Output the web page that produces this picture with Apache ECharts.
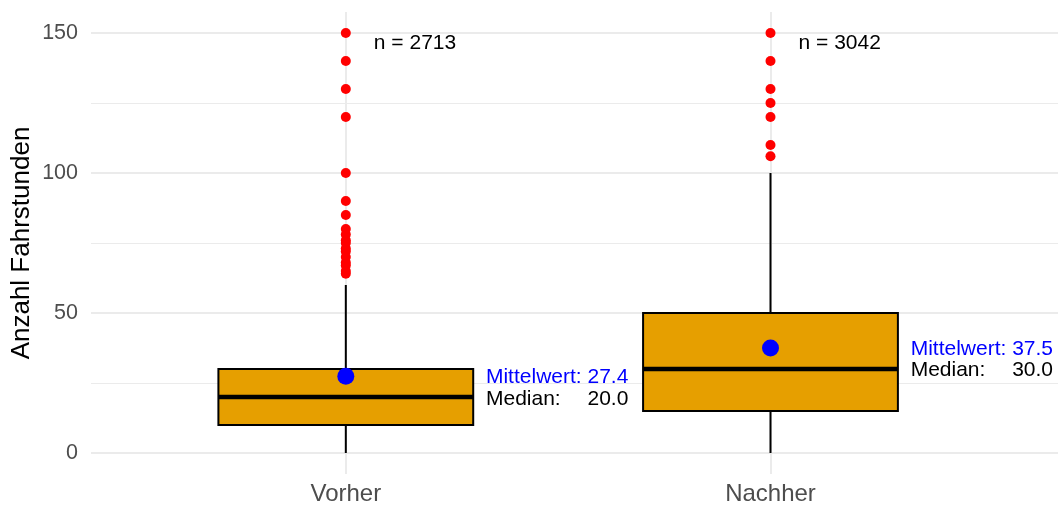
<!DOCTYPE html>
<html><head><meta charset="utf-8">
<script src="https://cdn.jsdelivr.net/npm/echarts@6/dist/echarts.min.js"></script>
<style>html,body{margin:0;padding:0;background:#fff}#c{width:1058px;height:506px}</style>
</head><body><div id="c"></div>
<script>
// ---- data ----
const categories = ['Vorher', 'Nachher'];
const counts = [2713, 3042];
const whiskerLow = [0, 0];
const q1 = [10, 15];
const medians = [20, 30];
const q3 = [30, 50];
const whiskerHigh = [60, 100];
const means = [27.4, 37.5];
const outliersVorher = [150, 140, 130, 120, 100, 90, 85, 80, 78, 76, 75, 73, 72, 70, 68, 67, 65, 64];
const outliersNachher = [150, 140, 130, 125, 120, 110, 106];
const yMajorTicks = [0, 50, 100, 150];
const yMinorTicks = [25, 75, 125];
const xTicks = [1, 2];

// ---- styles ----
const FONT = "'Liberation Sans', Arial, Helvetica, sans-serif";
const ANN_SIZE = 21;
const measureCtx = document.createElement('canvas').getContext('2d');
measureCtx.font = ANN_SIZE + "px 'Liberation Sans', Arial, sans-serif";
const textW = s => measureCtx.measureText(s).width;

const chart = echarts.init(document.getElementById('c'), null, {renderer: 'canvas'});

const boxData = categories.map((c, i) => [i + 1, whiskerLow[i], q1[i], medians[i], q3[i], whiskerHigh[i]]);
const outlierData = outliersVorher.map(v => [1, v]).concat(outliersNachher.map(v => [2, v]));
const meanData = categories.map((c, i) => [i + 1, means[i]]);
const annData = categories.map((c, i) => [i + 1, means[i], medians[i], counts[i], yMajorTicks[yMajorTicks.length - 1]]);

const option = {
  animation: false,
  backgroundColor: '#ffffff',
  grid: {left: 91, right: 0, top: 12, bottom: 32, containLabel: false, outerBoundsMode: 'none'},
  xAxis: {
    type: 'value', min: 0.4, max: 2.677,
    axisLine: {show: false},
    axisTick: {show: false, customValues: xTicks},
    axisLabel: {
      customValues: xTicks,
      formatter: v => categories[Math.round(v) - 1] || '',
      color: '#4D4D4D', fontSize: 24, fontFamily: FONT, margin: 8
    },
    splitLine: {show: true, lineStyle: {color: '#EBEBEB', width: 2}}
  },
  yAxis: [{
    type: 'value', min: -7.5, max: 157.5,
    name: 'Anzahl Fahrstunden', nameLocation: 'middle', nameRotate: 90, nameGap: 56,
    nameMoveOverlap: false,
    nameTextStyle: {color: '#000', fontSize: 26, fontFamily: FONT},
    axisLine: {show: false},
    axisTick: {show: false, customValues: yMajorTicks},
    axisLabel: {customValues: yMajorTicks, color: '#4D4D4D', fontSize: 21.5, fontFamily: FONT, margin: 13},
    splitLine: {show: true, lineStyle: {color: '#EBEBEB', width: 2}}
  }, {
    type: 'value', min: -7.5, max: 157.5, position: 'right',
    axisLine: {show: false},
    axisTick: {show: false, customValues: yMinorTicks},
    axisLabel: {show: false, customValues: yMinorTicks},
    splitLine: {show: true, lineStyle: {color: '#EBEBEB', width: 1.2}}
  }],
  series: [
    {
      type: 'custom', z: 2, clip: false,
      data: boxData,
      encode: {x: 0, y: [1, 2, 3, 4, 5]},
      renderItem(params, api) {
        const x = api.value(0);
        const pLow = api.coord([x, api.value(1)]);
        const pQ1 = api.coord([x, api.value(2)]);
        const pMed = api.coord([x, api.value(3)]);
        const pQ3 = api.coord([x, api.value(4)]);
        const pHigh = api.coord([x, api.value(5)]);
        const w = api.size([0.6, 0])[0];
        const left = pQ1[0] - w / 2;
        return {type: 'group', children: [
          {type: 'line', shape: {x1: pLow[0], y1: pLow[1], x2: pQ1[0], y2: pQ1[1]}, style: {stroke: '#000', lineWidth: 2}},
          {type: 'line', shape: {x1: pQ3[0], y1: pQ3[1], x2: pHigh[0], y2: pHigh[1]}, style: {stroke: '#000', lineWidth: 2}},
          {type: 'rect', shape: {x: left, y: pQ3[1], width: w, height: pQ1[1] - pQ3[1]}, style: {fill: '#E69F00', stroke: '#000', lineWidth: 2}},
          {type: 'line', shape: {x1: left, y1: pMed[1], x2: left + w, y2: pMed[1]}, style: {stroke: '#000', lineWidth: 4.5}}
        ]};
      }
    },
    {
      type: 'scatter', z: 3, data: outlierData, symbol: 'circle', symbolSize: 10,
      itemStyle: {color: '#FF0000', opacity: 1}, clip: false
    },
    {
      type: 'scatter', z: 4, data: meanData, symbol: 'circle', symbolSize: 17,
      itemStyle: {color: '#0000FF', opacity: 1}, clip: false
    },
    {
      type: 'custom', z: 5, clip: false,
      data: annData,
      encode: {x: 0, y: 1},
      renderItem(params, api) {
        const x = api.value(0);
        const mean = api.value(1);
        const med = api.value(2);
        const n = api.value(3);
        const top = api.value(4);
        const pMean = api.coord([x + 0.33, mean]);
        const pN = api.coord([x + 0.066, top]);
        const mText = 'Mittelwert: ' + mean.toFixed(1);
        const medVal = med.toFixed(1);
        const right = pMean[0] + textW(mText);
        const base = {fontSize: ANN_SIZE, fontFamily: FONT, verticalAlign: 'middle'};
        return {type: 'group', children: [
          {type: 'text', x: pN[0], y: pN[1] + 10, style: Object.assign({text: 'n = ' + n, fill: '#000', align: 'left'}, base)},
          {type: 'text', x: pMean[0], y: pMean[1] + 1, style: Object.assign({text: mText, fill: '#0000FF', align: 'left'}, base)},
          {type: 'text', x: pMean[0], y: pMean[1] + 22.5, style: Object.assign({text: 'Median:', fill: '#000', align: 'left'}, base)},
          {type: 'text', x: right, y: pMean[1] + 22.5, style: Object.assign({text: medVal, fill: '#000', align: 'right'}, base)}
        ]};
      }
    }
  ]
};
chart.setOption(option);
</script>
</body></html>
